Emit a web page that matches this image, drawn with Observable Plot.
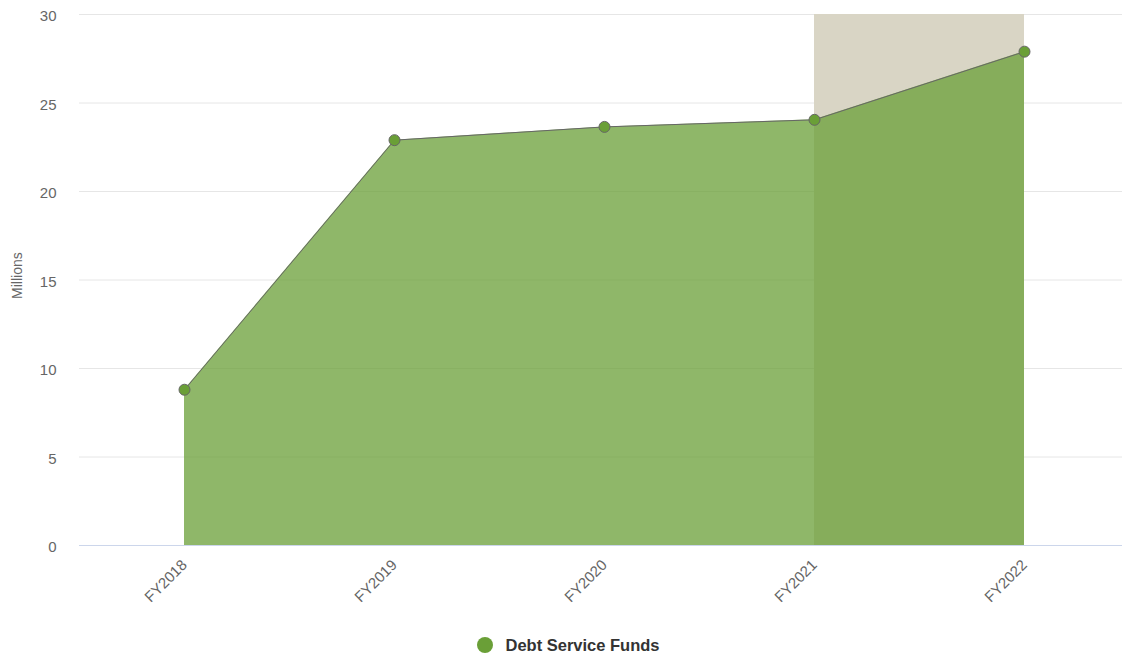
<!DOCTYPE html>
<html><head><meta charset="utf-8">
<script src="https://cdn.jsdelivr.net/npm/d3@7"></script>
<script src="https://cdn.jsdelivr.net/npm/@observablehq/plot@0.6"></script>
<style>
html,body{margin:0;padding:0;background:#fff;font-family:"Liberation Sans",Arial,Helvetica,sans-serif;}
#chart svg{display:block}
#legend{height:20px;margin-top:20px;padding-left:15px;display:flex;align-items:center;justify-content:center;font-weight:bold;font-size:16.5px;color:#333;}
#legend .dot{width:16px;height:16px;border-radius:50%;background:#6a9f37;margin-right:12px;}
</style></head>
<body>
<div id="chart"></div>
<div id="legend"><span class="dot"></span><span id="lname"></span></div>
<script>
const categories = ["FY2018","FY2019","FY2020","FY2021","FY2022"];
const values = [8.8, 22.9, 23.65, 24.05, 27.9];
const seriesName = "Debt Service Funds";
const forecastFrom = "FY2021";
const forecastTo = "FY2022";
const yTicks = [0,5,10,15,20,25,30];
const yTitle = "Millions";

document.getElementById("lname").textContent = seriesName;
const data = categories.map((c,i)=>({i, cat:c, v:values[i]}));
const band = [{x1: categories.indexOf(forecastFrom), x2: categories.indexOf(forecastTo), y1: 0, y2: 30}];

const plot = Plot.plot({
  width: 1122,
  height: 615,
  marginLeft: 79,
  marginRight: 0,
  marginTop: 14,
  marginBottom: 70,
  style: {fontFamily: '"Liberation Sans",Arial,sans-serif', fontSize: "15px", color: "#666", background: "#fff"},
  x: {domain: [-0.5, 4.5], range: [79, 1129], axis: null},
  y: {domain: [0, 30], axis: null},
  marks: [
    Plot.ruleY(yTicks, {y: d=>d, stroke: "#e6e6e6", strokeWidth: 1}),
    Plot.rect(band, {x1: "x1", x2: "x2", y1: "y1", y2: "y2", fill: "#d9d5c5"}),
    Plot.areaY(data, {x: "i", y: "v", fill: "#6a9f37", fillOpacity: 0.75}),
    Plot.ruleY([0], {stroke: "#ccd6eb", strokeWidth: 1}),
    Plot.line(data, {x: "i", y: "v", stroke: "#666", strokeWidth: 1}),
    Plot.dot(data, {x: "i", y: "v", r: 5.5, fill: "#6a9f37", stroke: "#666", strokeWidth: 1}),
    Plot.axisY(yTicks, {tickSize: 0, tickPadding: 23, fontSize: 15, fill: "#666", label: null, dy: 2}),
    Plot.axisX(data.map(d=>d.i), {tickSize: 0, tickPadding: 17, tickRotate: -45, tickFormat: i => categories[i], fontSize: 15, fill: "#666", label: null}),
    Plot.text([yTitle], {y: [15.25], frameAnchor: "left", textAnchor: "middle", dx: -62, rotate: -90, fontSize: 14, fill: "#666"})
  ]
});
document.getElementById("chart").appendChild(plot);
</script>
</body></html>
